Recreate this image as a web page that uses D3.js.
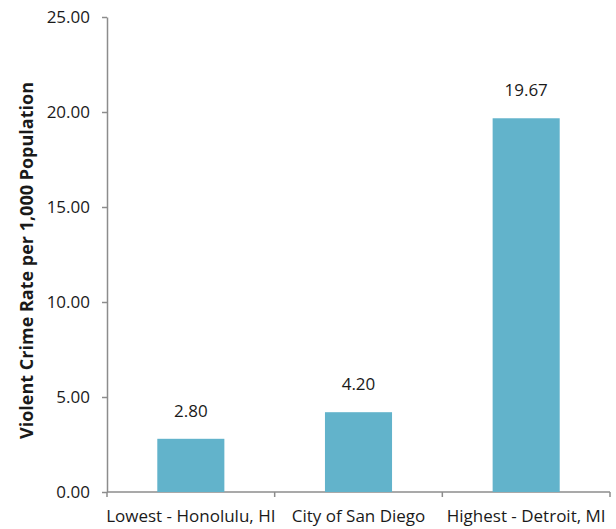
<!DOCTYPE html>
<html>
<head>
<meta charset="utf-8">
<script src="https://cdn.jsdelivr.net/npm/d3@7"></script>
<style>
  html, body { margin: 0; padding: 0; background: #fff; }
  text { font-family: "Open Sans", "Noto Sans", sans-serif; fill: #1a1a1a; }
</style>
</head>
<body>
<svg id="chart" width="616" height="529"></svg>
<script>
const categories = ["Lowest - Honolulu, HI", "City of San Diego", "Highest - Detroit, MI"];
const values = [2.80, 4.20, 19.67];
const yTicks = [0, 5, 10, 15, 20, 25];
const yTitle = "Violent Crime Rate per 1,000 Population";

const svg = d3.select("#chart");
const margin = { left: 107, right: 6, top: 17, bottom: 37 };
const W = 616, H = 529;
const FS = 17;
const x = d3.scaleBand().domain(categories).range([margin.left, W - margin.right]).paddingInner(0.6).paddingOuter(0.3);
const y = d3.scaleLinear().domain([0, 25]).range([H - margin.bottom, margin.top]);
const axisColor = "#8c8c8c";

// y axis
const yAxis = svg.append("g").attr("transform", `translate(${margin.left},0)`)
  .call(d3.axisLeft(y).tickValues(yTicks).tickFormat(d3.format(".2f")).tickSizeInner(5).tickSizeOuter(0).tickPadding(12));
yAxis.select(".domain").attr("stroke", axisColor).attr("stroke-width", 1.5);
yAxis.selectAll(".tick line").attr("stroke", axisColor).attr("stroke-width", 1.5);
yAxis.selectAll(".tick text").attr("font-size", FS).attr("fill", "#1a1a1a").attr("font-family", "Open Sans");

// x axis with boundary ticks
const x0 = margin.left, x1 = W - margin.right;
const xAxisG = svg.append("g");
xAxisG.append("line").attr("x1", x0).attr("x2", x1).attr("y1", y(0)).attr("y2", y(0))
  .attr("stroke", axisColor).attr("stroke-width", 1.5);
const step = x.step();
const bounds = categories.map(c => x(c) - (step - x.bandwidth()) / 2).concat([x1]);
bounds[0] = x0;
xAxisG.selectAll("line.tk").data(bounds).join("line").attr("class", "tk")
  .attr("x1", d => d).attr("x2", d => d).attr("y1", y(0)).attr("y2", y(0) + 5)
  .attr("stroke", axisColor).attr("stroke-width", 1.5);
xAxisG.selectAll("text").data(categories).join("text")
  .attr("x", d => x(d) + x.bandwidth() / 2).attr("y", y(0) + 30)
  .attr("text-anchor", "middle").attr("font-size", FS).text(d => d);

// bars
svg.selectAll("rect.bar").data(values).join("rect").attr("class", "bar")
  .attr("x", (d, i) => x(categories[i])).attr("width", x.bandwidth())
  .attr("y", d => y(d)).attr("height", d => y(0) - y(d))
  .attr("fill", "#62b3cb");

// value labels
svg.selectAll("text.val").data(values).join("text").attr("class", "val")
  .attr("x", (d, i) => x(categories[i]) + x.bandwidth() / 2)
  .attr("y", d => y(d) - 22)
  .attr("text-anchor", "middle").attr("font-size", FS).text(d => d3.format(".2f")(d));

// y title
svg.append("text").attr("transform", `translate(33,${(y(0) + y(25)) / 2 + 6}) rotate(-90)`)
  .attr("text-anchor", "middle").attr("font-size", 18).attr("font-weight", "bold").text(yTitle);
</script>
</body>
</html>
